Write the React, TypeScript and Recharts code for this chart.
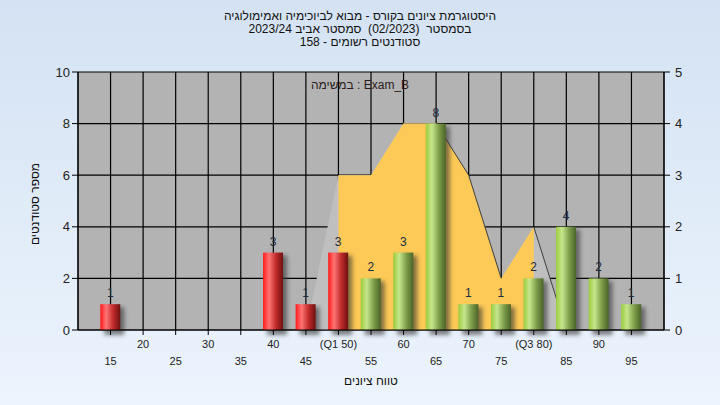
import React from "react";
import {
  ComposedChart,
  Bar,
  Area,
  XAxis,
  YAxis,
  CartesianGrid,
  LabelList,
} from "recharts";

// ערכי ההיסטוגרמה
const scores = [15, 20, 25, 30, 35, 40, 45, 50, 55, 60, 65, 70, 75, 80, 85, 90, 95];
const counts = [1, 0, 0, 0, 0, 3, 1, 3, 2, 3, 8, 1, 1, 2, 4, 2, 1];
// עקומת הפיזור (ציר ימני 0-5)
const spread = [null, null, null, null, null, null, 0, 3, 3, 4, 4, 3, 1, 2, 0, null, null];
// התחום הבין-רבעוני Q1..Q3
const iqr = [null, null, null, null, null, null, null, 3, 3, 4, 4, 3, 1, 2, null, null, null];
// קווי הצל בצד הימני של העקומה
const edgeHigh = [null, null, null, null, null, null, null, null, null, null, 4, 3, 1, null, null, null, null];
const edgeLow = [null, null, null, null, null, null, null, null, null, null, null, null, null, 2, 0, null, null];
const tickLabels = [
  "15", "20", "25", "30", "35", "40", "45", "(Q1 50)", "55",
  "60", "65", "70", "75", "(Q3 80)", "85", "90", "95",
];
const q1 = 50;
const leftTicks = [0, 2, 4, 6, 8, 10];
const rightTicks = [0, 1, 2, 3, 4, 5];

const data = scores.map((s, i) => ({
  score: s,
  count: counts[i],
  spread: spread[i],
  iqr: iqr[i],
  edgeHigh: edgeHigh[i],
  edgeLow: edgeLow[i],
}));

const font = '"Liberation Sans", Arial, sans-serif';

const XTick = (props: any) => {
  const { x, y, payload } = props;
  const idx = scores.indexOf(payload.value);
  const lower = idx % 2 === 0;
  return (
    <text
      x={x}
      y={y}
      dy={lower ? 28 : 11}
      textAnchor="middle"
      fontSize={11}
      fontFamily={font}
      fill="#222"
    >
      {tickLabels[idx]}
    </text>
  );
};

const BarShape = (props: any) => {
  const { x, y, width, height, payload } = props;
  if (!height || height <= 0) return null;
  const grad = payload.score <= q1 ? "url(#redBar)" : "url(#greenBar)";
  return (
    <g>
      <rect
        x={x + 4}
        y={y + 3}
        width={width}
        height={height + 2}
        fill="#333"
        opacity={0.6}
        filter="url(#shadowBlur)"
      />
      <rect x={x} y={y} width={width} height={height} fill={grad} />
    </g>
  );
};

export default function App() {
  return (
    <div
      style={{
        position: "absolute",
        left: 0,
        top: 0,
        width: 720,
        height: 405,
        background: "linear-gradient(#d4e2f3, #ecf4fd)",
        fontFamily: font,
      }}
    >
      <div
        style={{
          position: "absolute",
          top: 10,
          left: 0,
          width: 720,
          textAlign: "center",
          fontSize: 12,
          lineHeight: "13px",
          color: "#111",
        }}
      >
        <div>היסטוגרמת ציונים בקורס - מבוא לביוכימיה ואמימולוגיה</div>
        <div>בסמסטר&nbsp;&nbsp;(02/2023)&nbsp;&nbsp;סמסטר אביב 2023/24</div>
        <div>סטודנטים רשומים - 158</div>
      </div>

      <ComposedChart
        width={720}
        height={405}
        data={data}
        margin={{ top: 72, right: 20, bottom: 35, left: 38 }}
        style={{ position: "absolute", left: 0, top: 0 }}
      >
        <defs>
          <linearGradient id="redBar" x1="0" y1="0" x2="1" y2="0">
            <stop offset="0%" stopColor="#ff1a1a" />
            <stop offset="30%" stopColor="#ff7474" />
            <stop offset="65%" stopColor="#c02a2a" />
            <stop offset="100%" stopColor="#6e1010" />
          </linearGradient>
          <linearGradient id="greenBar" x1="0" y1="0" x2="1" y2="0">
            <stop offset="0%" stopColor="#9ccc3c" />
            <stop offset="30%" stopColor="#c6e68c" />
            <stop offset="65%" stopColor="#7f9e4a" />
            <stop offset="100%" stopColor="#4a6428" />
          </linearGradient>
          <filter id="shadowBlur" x="-50%" y="-10%" width="200%" height="130%">
            <feGaussianBlur stdDeviation="2" />
          </filter>
        </defs>
        <CartesianGrid
          yAxisId="left"
          stroke="#000"
          strokeWidth={1.2}
          fill="#b3b3b3"
          fillOpacity={1}
        />
        <XAxis
          dataKey="score"
          type="number"
          domain={[10, 100]}
          ticks={scores}
          interval={0}
          height={40}
          tick={<XTick />}
          tickSize={5}
          stroke="#000"
        />
        <YAxis
          yAxisId="left"
          domain={[0, 10]}
          ticks={leftTicks}
          width={40}
          tickSize={6}
          stroke="#000"
          tick={{ fill: "#222", fontSize: 13, fontFamily: font }}
        />
        <YAxis
          yAxisId="right"
          orientation="right"
          domain={[0, 5]}
          ticks={rightTicks}
          width={36}
          tickSize={6}
          tickMargin={5}
          stroke="#000"
          tick={{ fill: "#222", fontSize: 13, fontFamily: font }}
        />
        <Area
          yAxisId="right"
          dataKey="spread"
          type="linear"
          stroke="none"
          fill="#bfbfbf"
          fillOpacity={1}
          activeDot={false}
          isAnimationActive={false}
        />
        <Area
          yAxisId="right"
          dataKey="iqr"
          type="linear"
          stroke="none"
          fill="#fdca57"
          fillOpacity={1}
          activeDot={false}
          isAnimationActive={false}
        />
        <Area
          yAxisId="right"
          dataKey="edgeHigh"
          type="linear"
          stroke="#3c3c3c"
          strokeWidth={1}
          fill="none"
          activeDot={false}
          isAnimationActive={false}
        />
        <Area
          yAxisId="right"
          dataKey="edgeLow"
          type="linear"
          stroke="#3c3c3c"
          strokeWidth={1}
          fill="none"
          activeDot={false}
          isAnimationActive={false}
        />
        <Bar
          yAxisId="left"
          dataKey="count"
          barSize={20}
          shape={<BarShape />}
          isAnimationActive={false}
        >
          <LabelList
            dataKey="count"
            position="top"
            offset={7}
            formatter={(v: any) => (v ? v : "")}
            style={{ fill: "#1b2b40", fontSize: 12, fontFamily: font }}
          />
        </Bar>
      </ComposedChart>

      <div
        style={{
          position: "absolute",
          top: 78,
          left: 300,
          width: 120,
          textAlign: "center",
          fontSize: 12,
          color: "#2a1a1a",
        }}
      >
        במשימה : Exam_B
      </div>
      <div
        style={{
          position: "absolute",
          top: 374,
          left: 271,
          width: 200,
          textAlign: "center",
          fontSize: 12,
          color: "#111",
        }}
      >
        טווח ציונים
      </div>
      <div
        style={{
          position: "absolute",
          left: -65,
          top: 197,
          width: 200,
          textAlign: "center",
          fontSize: 12,
          color: "#111",
          transform: "rotate(-90deg)",
        }}
      >
        מספר סטודנטים
      </div>
    </div>
  );
}
